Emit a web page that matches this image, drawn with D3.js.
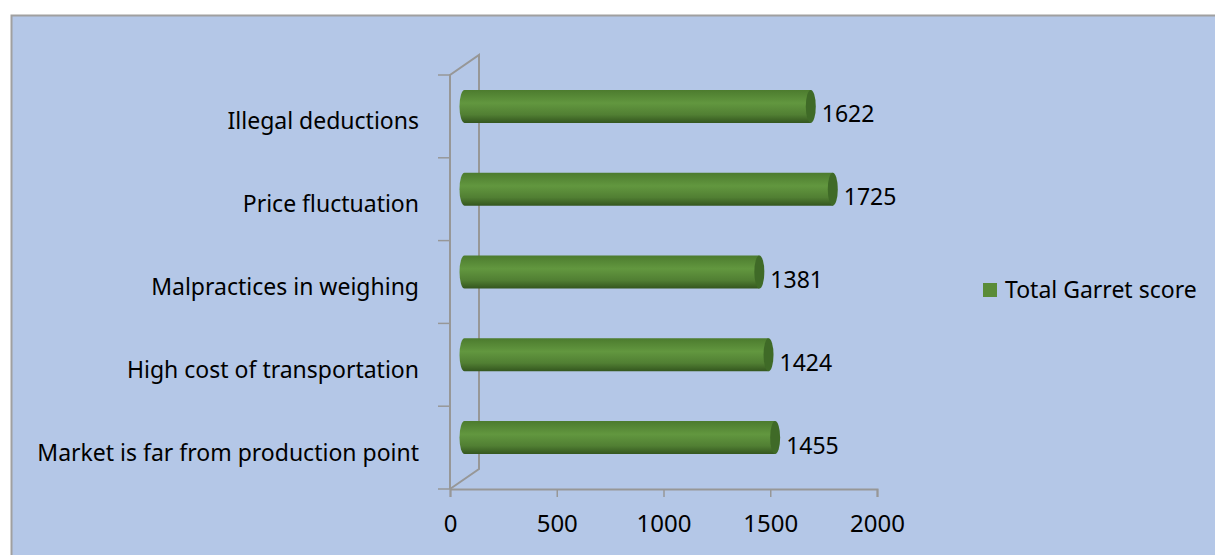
<!DOCTYPE html>
<html>
<head>
<meta charset="utf-8">
<script src="https://cdn.jsdelivr.net/npm/d3@7"></script>
<style>
  body { margin: 0; background: #fff; }
  text { font-family: "Noto Sans", "Open Sans", sans-serif; fill: #000; }
</style>
</head>
<body>
<svg id="chart"></svg>
<script>
const categories = ['Illegal deductions', 'Price fluctuation', 'Malpractices in weighing',
  'High cost of transportation', 'Market is far from production point'];
const scores = [1622, 1725, 1381, 1424, 1455];
const xTicks = [0, 500, 1000, 1500, 2000];
const seriesName = 'Total Garret score';

const width = 1215, height = 555;
const depth = { dx: 29, dy: -20 };
const fontSize = '23px';

const svg = d3.select('#chart').attr('width', width).attr('height', height);

// gradient for the cylinder body
const defs = svg.append('defs');
const grad = defs.append('linearGradient').attr('id', 'cyl')
  .attr('x1', 0).attr('y1', 0).attr('x2', 0).attr('y2', 1);
grad.append('stop').attr('offset', '0%').attr('stop-color', '#4c7b2e');
grad.append('stop').attr('offset', '40%').attr('stop-color', '#62973f');
grad.append('stop').attr('offset', '75%').attr('stop-color', '#517f33');
grad.append('stop').attr('offset', '100%').attr('stop-color', '#34561f');

// chart area
svg.append('rect')
  .attr('x', 11.5).attr('y', 15.5)
  .attr('width', width).attr('height', height)
  .attr('fill', '#b4c7e7').attr('stroke', '#a0a0a0').attr('stroke-width', 2);

const x = d3.scaleLinear().domain([0, 2000]).range([450, 877]);
const y = d3.scaleBand().domain(categories).range([75, 489]);

const axisColor = '#979797';
const g = svg.append('g');

// 3D wall lines
const x0 = x(0), yTop = y.range()[0], yBot = y.range()[1];
g.append('path')
  .attr('d', `M${x0},${yBot} L${x0},${yTop} L${x0 + depth.dx},${yTop + depth.dy} L${x0 + depth.dx},${yBot + depth.dy} L${x0},${yBot}`)
  .attr('fill', 'none').attr('stroke', axisColor).attr('stroke-width', 2);

// left ticks
const bounds = categories.map(c => y(c)).concat([yBot]);
g.selectAll('.ytick').data(bounds).join('line')
  .attr('x1', x0 - 12).attr('x2', x0)
  .attr('y1', d => d).attr('y2', d => d)
  .attr('stroke', axisColor).attr('stroke-width', 1.5);

// bottom axis
const xAxis = d3.axisBottom(x).tickValues(xTicks).tickSize(8).tickPadding(18).tickFormat(d3.format('d'));
const ax = g.append('g').attr('transform', `translate(0,${yBot})`).call(xAxis);
ax.select('.domain').attr('stroke', axisColor).attr('stroke-width', 2);
ax.selectAll('.tick line').attr('stroke', axisColor).attr('stroke-width', 1.5);
ax.selectAll('.tick text').style('font-size', '24px').style('font-family', '"Noto Sans", sans-serif');

// category labels
g.selectAll('.cat').data(categories).join('text')
  .attr('x', 419)
  .attr('y', d => y(d) + y.bandwidth() / 2 + 5)
  .attr('dy', '0.35em')
  .attr('text-anchor', 'end')
  .style('font-size', fontSize)
  .text(d => d);

// cylinders
const barH = 33, rx = 5;
const data = categories.map((c, i) => ({ c, v: scores[i] }));
const bars = g.selectAll('.bar').data(data).join('g').attr('class', 'bar')
  .attr('transform', d => `translate(${depth.dx / 2},${y(d.c) + y.bandwidth() / 2 + depth.dy / 2})`);

bars.append('path')
  .attr('d', d => {
    const a = x(0), b = x(d.v), r = barH / 2;
    return `M${b},${-r} L${a},${-r} A${rx},${r} 0 0 0 ${a},${r} L${b},${r} Z`;
  })
  .attr('fill', 'url(#cyl)');

bars.append('ellipse')
  .attr('cx', d => x(d.v)).attr('cy', 0)
  .attr('rx', rx).attr('ry', barH / 2)
  .attr('fill', '#3f6a27');

bars.append('text')
  .attr('x', d => x(d.v) + rx + 6)
  .attr('y', 8)
  .attr('dy', '0.35em')
  .style('font-size', fontSize)
  .text(d => d.v);

// legend
const lg = svg.append('g').attr('transform', 'translate(983,283)');
lg.append('rect').attr('width', 14).attr('height', 14).attr('fill', '#5a8c38');
lg.append('text').attr('x', 22).attr('y', 7).attr('dy', '0.35em')
  .style('font-size', fontSize).text(seriesName);
</script>
</body>
</html>
